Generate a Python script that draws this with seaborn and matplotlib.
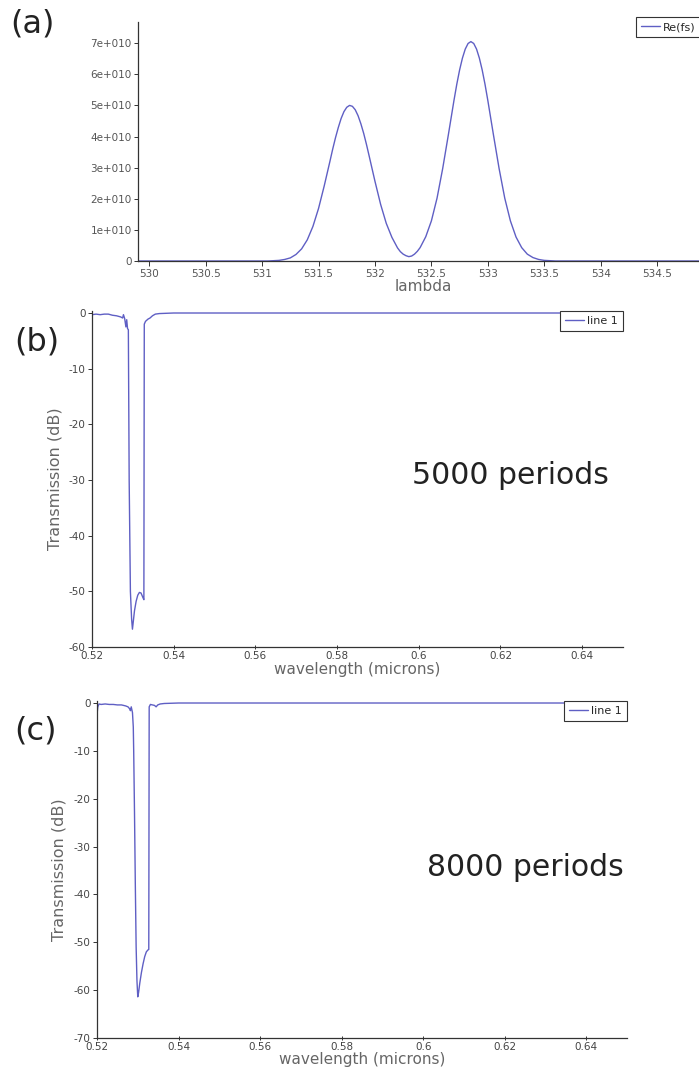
import numpy as np
import pandas as pd
import matplotlib
matplotlib.use("Agg")
import matplotlib.pyplot as plt
import seaborn as sns

# ---------------- data ----------------
# (a) Re(fs) versus lambda
a_lambda = [529.90, 531.00, 531.05, 531.10, 531.15, 531.20, 531.25, 531.30, 531.35, 531.40,
            531.45, 531.50, 531.55, 531.60, 531.625, 531.65, 531.675, 531.70, 531.725, 531.75,
            531.775, 531.80, 531.825, 531.85, 531.875, 531.90, 531.925, 531.95, 532.00, 532.05,
            532.10, 532.15, 532.20, 532.225, 532.25, 532.275, 532.30, 532.325, 532.35, 532.375,
            532.40, 532.45, 532.50, 532.55, 532.60, 532.65, 532.70, 532.725, 532.75, 532.775,
            532.80, 532.825, 532.85, 532.875, 532.90, 532.925, 532.95, 532.975, 533.00, 533.05,
            533.10, 533.15, 533.20, 533.25, 533.30, 533.35, 533.40, 533.45, 533.50, 533.55,
            533.60, 534.96]
a_refs_e10 = [0.00, 0.00, 0.00, 0.01, 0.02, 0.05, 0.10, 0.21, 0.39, 0.68,
              1.11, 1.69, 2.41, 3.19, 3.59, 3.96, 4.29, 4.58, 4.80, 4.94,
              5.00, 4.97, 4.86, 4.67, 4.41, 4.10, 3.74, 3.35, 2.56, 1.82,
              1.21, 0.76, 0.42, 0.30, 0.22, 0.17, 0.14, 0.16, 0.22, 0.31,
              0.43, 0.78, 1.29, 2.02, 2.97, 4.05, 5.16, 5.68, 6.14, 6.52,
              6.81, 6.99, 7.05, 6.99, 6.81, 6.52, 6.14, 5.68, 5.16, 4.05,
              2.97, 2.02, 1.29, 0.77, 0.43, 0.22, 0.11, 0.05, 0.02, 0.01,
              0.00, 0.00]
a_yticks = [0, 1e10, 2e10, 3e10, 4e10, 5e10, 6e10, 7e10]
a_yticklabels = ["0", "1e+010", "2e+010", "3e+010", "4e+010", "5e+010", "6e+010", "7e+010"]
a_xticks = [530, 530.5, 531, 531.5, 532, 532.5, 533, 533.5, 534, 534.5]

# (b) 5000 periods
b_wl = [0.5200, 0.5210, 0.5220, 0.5230, 0.5240, 0.5250, 0.5260, 0.5270, 0.5275, 0.5277,
        0.5280, 0.5283, 0.5285, 0.5287, 0.5289, 0.5291, 0.5294, 0.5297, 0.5299, 0.5301,
        0.5304, 0.5308, 0.5312, 0.5316, 0.5320, 0.5324, 0.5327, 0.5328, 0.5331, 0.5334,
        0.5337, 0.5342, 0.5348, 0.5355, 0.5365, 0.5400, 0.5600, 0.6000, 0.6500]
b_db = [-0.3, -0.2, -0.3, -0.2, -0.2, -0.4, -0.5, -0.7, -0.9, -0.3,
        -1.0, -2.5, -1.2, -2.8, -3.0, -30.0, -50.0, -55.0, -56.8, -55.5,
        -53.5, -51.8, -50.7, -50.2, -50.3, -51.0, -51.5, -2.0, -1.5, -1.3,
        -1.1, -0.9, -0.5, -0.2, -0.1, 0.0, 0.0, 0.0, 0.0]

# (c) 8000 periods
c_wl = [0.52000, 0.52005, 0.52020, 0.52050, 0.5210, 0.5220, 0.5230, 0.5240, 0.5250, 0.5260,
        0.5270, 0.5276, 0.5280, 0.5282, 0.5284, 0.5287, 0.5289, 0.5290, 0.5292, 0.5294,
        0.5296, 0.5298, 0.5300, 0.5302, 0.5305, 0.5309, 0.5313, 0.5317, 0.5321, 0.5325,
        0.5327, 0.5328, 0.5331, 0.5336, 0.5341, 0.5345, 0.5349, 0.5355, 0.5365, 0.5400,
        0.6500]
c_db = [-75.0, -2.0, -0.8, -0.2, -0.3, -0.2, -0.3, -0.3, -0.4, -0.4,
        -0.6, -0.8, -1.2, -1.6, -0.8, -2.0, -5.0, -10.0, -23.0, -38.0,
        -51.0, -58.0, -61.4, -60.5, -58.5, -56.3, -54.5, -53.0, -52.0, -51.6,
        -51.5, -0.8, -0.3, -0.4, -0.5, -0.8, -0.4, -0.2, -0.1, 0.0,
        0.0]

wl_ticks = [0.52, 0.54, 0.56, 0.58, 0.60, 0.62, 0.64]
wl_ticklabels = ["0.52", "0.54", "0.56", "0.58", "0.6", "0.62", "0.64"]
b_yticks = [0, -10, -20, -30, -40, -50, -60]
c_yticks = [0, -10, -20, -30, -40, -50, -60, -70]

# ---------------- styling ----------------
sns.set_theme(style="ticks")
plt.rcParams['font.family'] = ['DejaVu Sans']
plt.rcParams['axes.unicode_minus'] = False

LINE = "#5f5fc4"
W, H = 699, 1072
fig = plt.figure(figsize=(W / 100, H / 100), dpi=100)
fig.patch.set_facecolor("white")


def ax_px(l, t, r, b):
    return fig.add_axes([l / W, 1 - b / H, (r - l) / W, (b - t) / H])


def style(ax, tickcolor, xdir, xpad=2):
    for s in ["top", "right"]:
        ax.spines[s].set_visible(False)
    for s in ["left", "bottom"]:
        ax.spines[s].set_color("#333333")
        ax.spines[s].set_linewidth(0.9)
    ax.tick_params(axis="y", direction="out", length=3, width=0.7, colors="#333333",
                   labelsize=7.5, labelcolor=tickcolor, pad=1.5)
    ax.tick_params(axis="x", direction=xdir, length=3.5, width=0.7, colors="#333333",
                   labelsize=7.5, labelcolor=tickcolor, pad=xpad)
    ax.set_facecolor("white")
    ax.grid(False)


def legend(ax, **kw):
    lg = ax.legend(fontsize=8, frameon=True, fancybox=False, edgecolor="#333333",
                   framealpha=1, borderpad=0.45, handlelength=1.7, handletextpad=0.3,
                   borderaxespad=0, **kw)
    lg.get_frame().set_linewidth(0.8)
    for h in lg.get_lines():
        h.set_linewidth(1.0)


# ---------------- (a) ----------------
ax_a = ax_px(138, 22, 709, 261)
df_a = pd.DataFrame({"lambda": a_lambda, "val": np.array(a_refs_e10) * 1e10})
sns.lineplot(data=df_a, x="lambda", y="val", ax=ax_a, color=LINE, lw=1.0,
             estimator=None, label="Re(fs)")
ax_a.set_xlim(529.9, 534.96)
ax_a.set_ylim(0, 7.68e10)
ax_a.set_yticks(a_yticks)
ax_a.set_yticklabels(a_yticklabels)
ax_a.set_xticks(a_xticks)
ax_a.set_xticklabels([f"{v:g}" for v in a_xticks])
style(ax_a, "#555555", "out")
ax_a.set_ylabel("")
ax_a.set_xlabel("lambda", fontsize=11, color="#666666")
ax_a.xaxis.set_label_coords(0.5, -0.075)
legend(ax_a, loc="upper left", bbox_to_anchor=(636 / W, 1 - 17 / H),
       bbox_transform=fig.transFigure)

# ---------------- (b) ----------------
ax_b = ax_px(92, 311, 623, 647)
df_b = pd.DataFrame({"wl": b_wl, "db": b_db})
sns.lineplot(data=df_b, x="wl", y="db", ax=ax_b, color=LINE, lw=1.0,
             estimator=None, label="line 1")
ax_b.set_xlim(0.52, 0.65)
ax_b.set_ylim(-60, 0.36)
ax_b.set_yticks(b_yticks)
ax_b.set_yticklabels([f"{v:d}" for v in b_yticks])
ax_b.set_xticks(wl_ticks)
ax_b.set_xticklabels(wl_ticklabels)
style(ax_b, "#444444", "inout", xpad=1)
ax_b.set_ylabel("Transmission (dB)", fontsize=11.5, color="#666666")
ax_b.yaxis.set_label_coords(-0.055, 0.5)
ax_b.set_xlabel("wavelength (microns)", fontsize=11, color="#666666")
ax_b.xaxis.set_label_coords(0.5, -0.045)
legend(ax_b, loc="upper right", bbox_to_anchor=(1.0, 1.0))

# ---------------- (c) ----------------
ax_c = ax_px(97, 701, 627, 1038)
df_c = pd.DataFrame({"wl": c_wl, "db": c_db})
sns.lineplot(data=df_c, x="wl", y="db", ax=ax_c, color=LINE, lw=1.0,
             estimator=None, label="line 1")
ax_c.set_xlim(0.52, 0.65)
ax_c.set_ylim(-70, 0.42)
ax_c.set_yticks(c_yticks)
ax_c.set_yticklabels([f"{v:d}" for v in c_yticks])
ax_c.set_xticks(wl_ticks)
ax_c.set_xticklabels(wl_ticklabels)
style(ax_c, "#444444", "inout", xpad=1)
ax_c.set_ylabel("Transmission (dB)", fontsize=11.5, color="#666666")
ax_c.yaxis.set_label_coords(-0.057, 0.5)
ax_c.set_xlabel("wavelength (microns)", fontsize=11, color="#666666")
ax_c.xaxis.set_label_coords(0.5, -0.043)
legend(ax_c, loc="upper right", bbox_to_anchor=(1.0, 1.0))

# ---------------- annotations ----------------
fig.text(10 / W, 1 - 24 / H, "(a)", fontsize=23, color="#222222", ha="left", va="center")
fig.text(14 / W, 1 - 342 / H, "(b)", fontsize=23, color="#222222", ha="left", va="center")
fig.text(14 / W, 1 - 731 / H, "(c)", fontsize=23, color="#222222", ha="left", va="center")
fig.text(510 / W, 1 - 475 / H, "5000 periods", fontsize=21.5, color="#222222",
         ha="center", va="center")
fig.text(525 / W, 1 - 867 / H, "8000 periods", fontsize=21.5, color="#222222",
         ha="center", va="center")

fig.savefig("out.png", dpi=100, facecolor="white")
